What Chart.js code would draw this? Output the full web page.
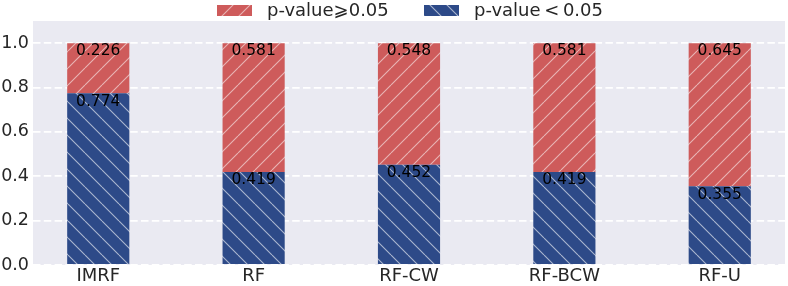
<!DOCTYPE html>
<html>
<head>
<meta charset="utf-8">
<script src="https://cdn.jsdelivr.net/npm/chart.js@4.4.1/dist/chart.umd.min.js"></script>
<style>
html,body{margin:0;padding:0;background:#fff;}
#wrap{width:788px;height:286px;position:relative;}
</style>
</head>
<body>
<div id="wrap"><canvas id="c" width="788" height="286"></canvas></div>
<script>
const categories = ["IMRF", "RF", "RF-CW", "RF-BCW", "RF-U"];
const sigValues = [0.774, 0.419, 0.452, 0.419, 0.355];      // p-value < 0.05
const nonSigValues = [0.226, 0.581, 0.548, 0.581, 0.645];   // p-value >= 0.05
const yTicks = [0.0, 0.2, 0.4, 0.6, 0.8, 1.0];
const legendLabels = ["p-value\u2A7E0.05", "p-value\u2009<\u20090.05"];

const RED = "#CE5B5B";
const BLUE = "#2D4A88";
const FONT = "'DejaVu Sans', sans-serif";

function hatch(bg, dir, line) {
  const s = 17;
  const cv = document.createElement("canvas");
  cv.width = s; cv.height = s;
  const g = cv.getContext("2d");
  g.fillStyle = bg; g.fillRect(0, 0, s, s);
  g.strokeStyle = line; g.lineWidth = 1.1;
  g.beginPath();
  if (dir === "/") {
    for (let k = -1; k <= 1; k++) { g.moveTo(k * s, s); g.lineTo(k * s + s, 0); }
  } else {
    for (let k = -1; k <= 1; k++) { g.moveTo(k * s, 0); g.lineTo(k * s + s, s); }
  }
  g.stroke();
  return document.getElementById("c").getContext("2d").createPattern(cv, "repeat");
}
const redPat = hatch(RED, "/", "rgba(255,255,255,0.55)");
const bluePat = hatch(BLUE, "\\", "rgba(255,255,255,0.6)");

const bgPlugin = {
  id: "bg",
  beforeDraw(chart) {
    const {ctx, chartArea: a} = chart;
    ctx.save(); ctx.fillStyle = "#EAEAF2";
    ctx.fillRect(a.left, a.top, a.right - a.left, a.bottom - a.top);
    ctx.restore();
  }
};

const labelPlugin = {
  id: "vals",
  afterDatasetsDraw(chart) {
    const ctx = chart.ctx;
    ctx.save();
    ctx.font = "15.5px " + FONT;
    ctx.fillStyle = "#000";
    ctx.textAlign = "center";
    ctx.textBaseline = "top";
    chart.data.datasets.forEach((ds, di) => {
      chart.getDatasetMeta(di).data.forEach((bar, i) => {
        ctx.fillText(ds.data[i].y.toFixed(3), bar.x, bar.y + 0.5);
      });
    });
    ctx.restore();
  }
};

const legendPlugin = {
  id: "customLegend",
  afterDraw(chart) {
    const ctx = chart.ctx;
    ctx.save();
    ctx.font = "18px " + FONT;
    ctx.textBaseline = "middle";
    const items = [[redPat, legendLabels[0], 217], [bluePat, legendLabels[1], 424]];
    items.forEach(([p, t, x]) => {
      ctx.fillStyle = p;
      ctx.fillRect(x, 5, 35, 11);
      ctx.fillStyle = "#262626";
      ctx.fillText(t, x + 50, 11);
    });
    ctx.restore();
  }
};

new Chart(document.getElementById("c"), {
  type: "bar",
  data: {
    datasets: [
      { label: legendLabels[1], data: sigValues.map((v, i) => ({x: i, y: v})), backgroundColor: bluePat, borderWidth: 0 },
      { label: legendLabels[0], data: nonSigValues.map((v, i) => ({x: i, y: v})), backgroundColor: redPat, borderWidth: 0 }
    ]
  },
  options: {
    responsive: false,
    animation: false,
    devicePixelRatio: 1,
    layout: { padding: { top: 21, right: 3, left: 0, bottom: 0 } },
    datasets: { bar: { barPercentage: 0.4, categoryPercentage: 1.0 } },
    plugins: { legend: { display: false }, tooltip: { enabled: false } },
    scales: {
      x: {
        type: "linear", stacked: true, min: -0.42, max: 4.42, offset: false,
        grid: { display: false, drawTicks: false },
        border: { display: false },
        afterBuildTicks(s) { s.ticks = categories.map((c, i) => ({ value: i })); },
        afterFit(s) { s.height = 21; },
        ticks: {
          autoSkip: false, maxRotation: 0, padding: 1,
          font: { size: 18, family: FONT }, color: "#262626",
          callback: (v) => categories[v] ?? ""
        }
      },
      y: {
        stacked: true, min: 0, max: 1.1,
        grid: { color: "#ffffff", lineWidth: 1.8, drawTicks: false },
        border: { display: false, dash: [7.5, 3.3] },
        afterBuildTicks(s) { s.ticks = yTicks.map(v => ({ value: v })); },
        afterFit(s) { s.width = 33; },
        ticks: {
          padding: 4, font: { size: 17.5, family: FONT }, color: "#262626",
          callback: (v) => Number(v).toFixed(1)
        }
      }
    }
  },
  plugins: [bgPlugin, labelPlugin, legendPlugin]
});
</script>
</body>
</html>
